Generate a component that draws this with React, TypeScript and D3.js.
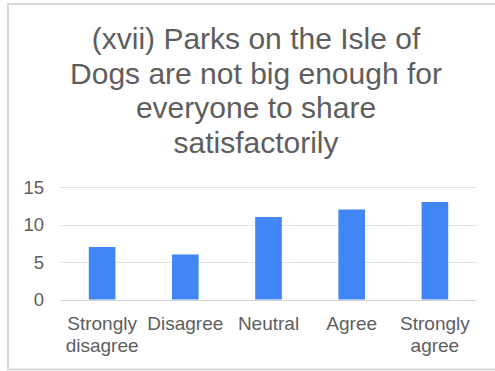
import React from "react";
import * as d3 from "d3";

const titleLines: string[] = [
  "(xvii) Parks on the Isle of",
  "Dogs are not big enough for",
  "everyone to share",
  "satisfactorily",
];
const categories: string[][] = [
  ["Strongly", "disagree"],
  ["Disagree"],
  ["Neutral"],
  ["Agree"],
  ["Strongly", "agree"],
];
const values: number[] = [7, 6, 11, 12, 13];
const yTicks: number[] = [0, 5, 10, 15];

const W = 495;
const H = 371;
const FONT = "'Liberation Sans', Arial, sans-serif";

export default function App() {
  const keys = categories.map((c) => c.join(" "));
  const x = d3
    .scaleBand<string>()
    .domain(keys)
    .range([60.5, 476.5])
    .paddingInner(0.68)
    .paddingOuter(0.34);
  const y = d3.scaleLinear().domain([0, 15]).range([299.5, 187]);

  return (
    <div style={{ position: "absolute", left: 0, top: 0 }}>
      <svg width={W} height={H} style={{ display: "block" }}>
        <rect x={0} y={0} width={W} height={H} fill="#ffffff" />
        <rect
          x={8}
          y={4}
          width={600}
          height={365.5}
          fill="#ffffff"
          stroke="#d4d4d4"
          strokeWidth={1.8}
        />
        <g fontFamily={FONT} fill="#5e5e5e" fontSize={30} textAnchor="middle">
          {titleLines.map((t, i) => (
            <text key={i} x={256} y={49 + i * 34.65}>
              {t}
            </text>
          ))}
        </g>
        <g>
          {yTicks.map((t) => (
            <line
              key={t}
              x1={60.5}
              x2={476.5}
              y1={Math.round(y(t)) + 0.5}
              y2={Math.round(y(t)) + 0.5}
              stroke={t === 0 ? "#d6d6d6" : "#e3e3e3"}
              strokeWidth={1}
            />
          ))}
        </g>
        <g fontFamily={FONT} fill="#5e5e5e" fontSize={18.5} textAnchor="end">
          {yTicks.map((t) => (
            <text key={t} x={44} y={y(t)} dy="0.36em">
              {t}
            </text>
          ))}
        </g>
        <g>
          {values.map((v, i) => (
            <rect
              key={i}
              x={x(keys[i])!}
              width={x.bandwidth()}
              y={y(v)}
              height={y(0) - y(v)}
              fill="#4285f4"
            />
          ))}
        </g>
        <g fontFamily={FONT} fill="#5e5e5e" fontSize={19} textAnchor="middle">
          {categories.map((lines, i) => (
            <text key={i} x={x(keys[i])! + x.bandwidth() / 2} y={330}>
              {lines.map((l, j) => (
                <tspan key={j} x={x(keys[i])! + x.bandwidth() / 2} dy={j === 0 ? 0 : 21.5}>
                  {l}
                </tspan>
              ))}
            </text>
          ))}
        </g>
      </svg>
    </div>
  );
}
